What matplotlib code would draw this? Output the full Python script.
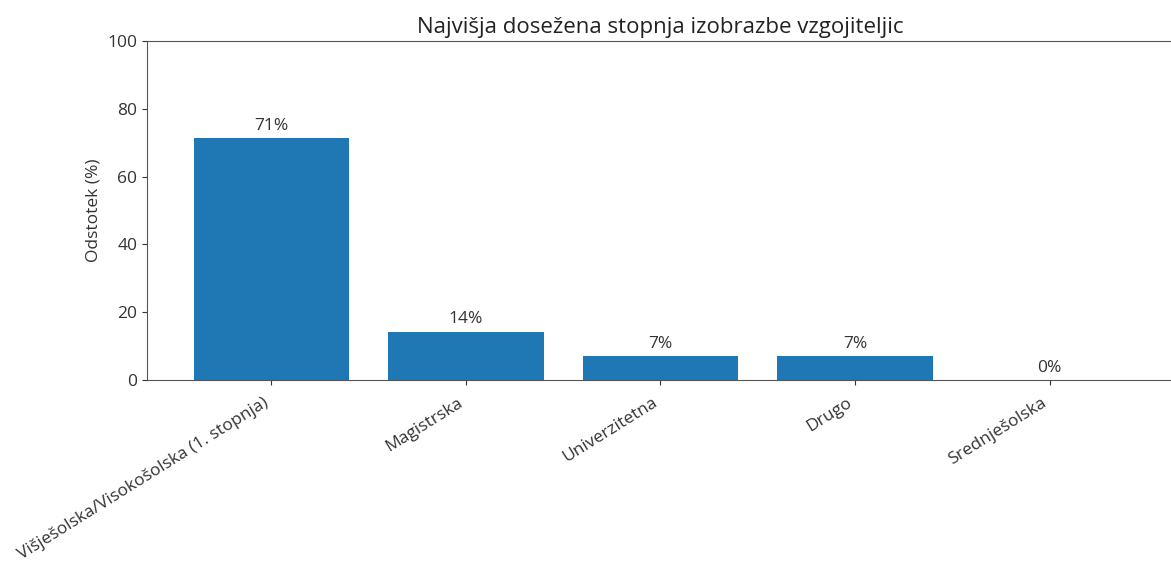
import matplotlib
matplotlib.use("Agg")
import matplotlib.pyplot as plt

kategorije = ["Višješolska/Visokošolska (1. stopnja)", "Magistrska", "Univerzitetna",
              "Drugo", "Srednješolska"]
odstotki = [71.4, 14.3, 7.1, 7.1, 0.0]

plt.rcParams["font.family"] = ["Open Sans", "DejaVu Sans"]
plt.rcParams["font.size"] = 12.5

fig = plt.figure(figsize=(11.71, 5.79), dpi=100)
ax = fig.add_axes([147 / 1171, 1 - 380 / 579, (1174 - 147) / 1171, 339 / 579])

stolpci = ax.bar(kategorije, odstotki, color="#1f77b4")
for s, v in zip(stolpci, odstotki):
    ax.annotate(f"{v:.0f}%", (s.get_x() + s.get_width() / 2, v),
                xytext=(0, 3), textcoords="offset points", ha="center", va="bottom",
                color="#333333")

ax.set_ylim(0, 100)
ax.set_ylabel("Odstotek (%)", color="#333333")
ax.set_title("Najvišja dosežena stopnja izobrazbe vzgojiteljic", fontsize=16, color="#222222")
ax.tick_params(colors="#333333", labelcolor="#333333")
ax.tick_params(axis="x", pad=7)
for sp in ax.spines.values():
    sp.set_color("#555555")
plt.setp(ax.get_xticklabels(), rotation=32, ha="right")

fig.savefig("out.png", dpi=100)
